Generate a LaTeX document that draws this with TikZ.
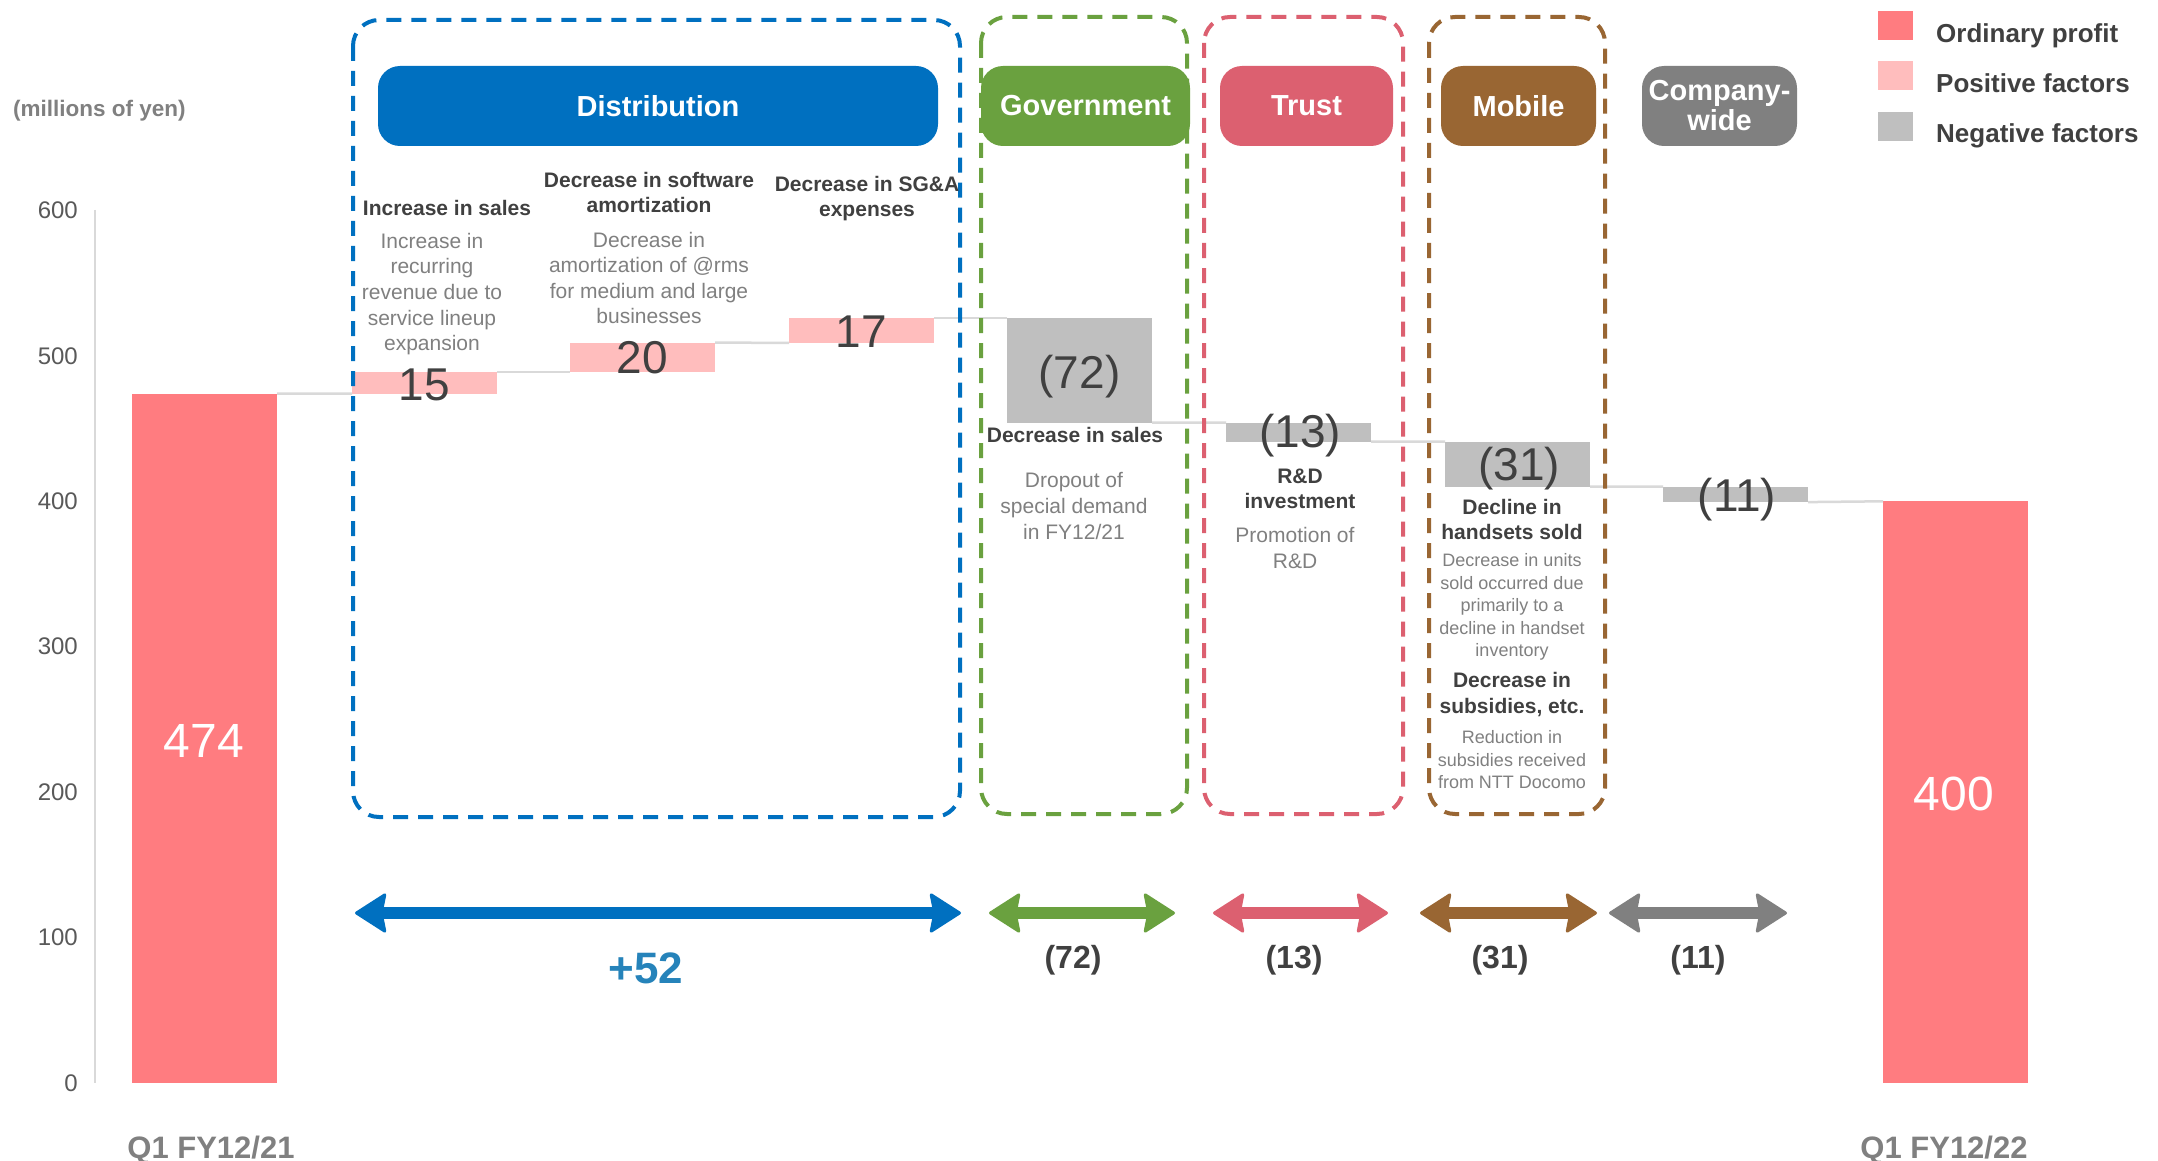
\documentclass[tikz,border=0pt]{standalone}
\usepackage{fontspec}
\setmainfont{Liberation Sans}
\usetikzlibrary{arrows.meta}
\definecolor{cOrd}{HTML}{FF7C80}
\definecolor{cPos}{HTML}{FFBDBD}
\definecolor{cNeg}{HTML}{BFBFBF}
\definecolor{cBlue}{HTML}{0070C0}
\definecolor{cGreen}{HTML}{6AA13F}
\definecolor{cTrust}{HTML}{DC6070}
\definecolor{cBrown}{HTML}{996633}
\definecolor{cComp}{HTML}{808080}
\definecolor{cDark}{HTML}{404040}
\definecolor{cDesc}{HTML}{808080}
\definecolor{cAxis}{HTML}{595959}
\definecolor{cConn}{HTML}{D9D9D9}
\definecolor{cPlus}{HTML}{2683BA}
\newcommand\fsz[2]{\fontsize{#1pt}{#2pt}\selectfont}
\begin{document}
\begin{tikzpicture}[x=1pt,y=-1pt,
  bar/.style={draw=none, inner sep=0pt, outer sep=0pt, minimum width=145pt, anchor=south west},
  conn/.style={draw=cConn, line width=2.5pt},
  dbox/.style={line width=4pt, dash pattern=on 15pt off 10pt, rounded corners=26pt},
  pill/.style={rounded corners=22pt, inner sep=0pt, minimum height=80pt, text=white, font={\bfseries\fsz{29}{30}}, align=center},
  lbl/.style={inner sep=0pt, align=center, text=cDark, font={\bfseries\fsz{21}{25}}},
  desc/.style={inner sep=0pt, align=center, text=cDesc, font={\fsz{21}{25.6}}},
  mdesc/.style={inner sep=0pt, align=center, text=cDesc, font={\fsz{18}{22.5}}},
  big/.style={inner sep=0pt, anchor=base, text=cDark, font={\fsz{46}{46}}},
  tot/.style={inner sep=0pt, anchor=base, text=white, font={\fsz{48}{48}}},
  ytick/.style={inner sep=0pt, anchor=east, text=cAxis, font={\fsz{24}{24}}},
  cat/.style={inner sep=0pt, anchor=base, text=cDesc, font={\bfseries\fsz{31}{31}}},
  spanarrow/.style={line width=12pt, arrows={Stealth[length=33pt,width=42pt,inset=4pt,round,line width=3pt 0 0]-Stealth[length=33pt,width=42pt,inset=4pt,round,line width=3pt 0 0]}},
  spanlbl/.style={inner sep=0pt, anchor=base, text=cDark, font={\bfseries\fsz{32}{32}}},
  legsq/.style={inner sep=0pt, minimum width=35pt, minimum height=29pt, anchor=north west},
  legtx/.style={inner sep=0pt, anchor=base west, text=cDark, font={\bfseries\fsz{26}{26}}}
]
\fill[white] (0,0) rectangle (2158,1161);
\useasboundingbox (0,0) rectangle (2158,1161);

% axis
\coordinate (axTop) at (95,210);
\coordinate (axBot) at (95,1083);
\draw[draw=cConn, line width=2pt] (axTop) -- (axBot);
\node[ytick] (t600) at (78,210.4) {600};
\node[ytick] (t500) at (78,355.9) {500};
\node[ytick] (t400) at (78,501.3) {400};
\node[ytick] (t300) at (78,646.7) {300};
\node[ytick] (t200) at (78,792.1) {200};
\node[ytick] (t100) at (78,937.6) {100};
\node[ytick] (t0) at (78,1083) {0};
\node[inner sep=0pt, anchor=west, text=cDesc, font={\bfseries\fsz{22.5}{22.5}}] (unit) at (13,111) {(millions of yen)};

% bars
\node[bar, fill=cOrd, minimum height=689.3pt] (b0) at (132,1083) {};
\node[bar, fill=cPos, minimum height=21.9pt] (b1) at (352,393.7) {};
\node[bar, fill=cPos, minimum height=29.1pt] (b2) at (570,371.8) {};
\node[bar, fill=cPos, minimum height=24.8pt] (b3) at (789,342.8) {};
\node[bar, fill=cNeg, minimum height=104.7pt] (b4) at (1007,422.7) {};
\node[bar, fill=cNeg, minimum height=18.9pt] (b5) at (1226,441.6) {};
\node[bar, fill=cNeg, minimum height=45.1pt] (b6) at (1445,486.7) {};
\node[bar, fill=cNeg, minimum height=15.4pt] (b7) at (1663,502.1) {};
\node[bar, fill=cOrd, minimum height=581.7pt] (b8) at (1883,1083) {};

% connectors
\draw[conn] (b0.north east) -- (b1.south west);
\draw[conn] (b1.north east) -- (b2.south west);
\draw[conn] (b2.north east) -- (b3.south west);
\draw[conn] (b3.north east) -- (b4.north west);
\draw[conn] (b4.south east) -- (b5.north west);
\draw[conn] (b5.south east) -- (b6.north west);
\draw[conn] (b6.south east) -- (b7.north west);
\draw[conn] (b7.south east) -- (b8.north west);

% group frames
\draw[dbox, draw=cBlue] (353,20) rectangle (960,817);
\draw[dbox, draw=cGreen] (981,17) rectangle (1187,814);
\draw[dbox, draw=cTrust] (1204,17) rectangle (1403,814);
\draw[dbox, draw=cBrown] (1429,17) rectangle (1605,814);

% headers
\node[pill, fill=cBlue, minimum width=560pt] (hDist) at (658,106) {Distribution};
\node[pill, fill=cGreen, minimum width=209pt] (hGov) at (1085.5,106) {Government};
\node[pill, fill=cTrust, minimum width=173pt] (hTrust) at (1306.5,106) {Trust};
\node[pill, fill=cBrown, minimum width=155pt] (hMob) at (1518.5,106) {Mobile};
\node[pill, fill=cComp, minimum width=155pt] (hComp) at (1719.5,106) {Company-\\wide};

% legend
\node[legsq, fill=cOrd] (lg1) at (1878,11) {};
\node[legsq, fill=cPos] (lg2) at (1878,61) {};
\node[legsq, fill=cNeg] (lg3) at (1878,112) {};
\node[legtx] (lt1) at (1936,43) {Ordinary profit};
\node[legtx] (lt2) at (1936,93) {Positive factors};
\node[legtx] (lt3) at (1936,143) {Negative factors};

% bar values
\node[tot] (v0) at (204,757) {474};
\node[big] (v1) at (b1.center |- 0,400) {15};
\node[big] (v2) at (b2.center |- 0,373) {20};
\node[big] (v3) at (b3.center |- 0,347) {17};
\node[big] (v4) at (b4.center |- 0,388) {(72)};
\node[big] (v5) at (1300,447) {(13)};
\node[big] (v6) at (1519,480) {(31)};
\node[big] (v7) at (1737,511) {(11)};
\node[tot] (v8) at (1954,810) {400};

% annotations
\node[lbl] (lA) at (447,208) {Increase in sales};
\node[desc] (dA) at (432,294) {Increase in\\recurring\\revenue due to\\service lineup\\expansion};
\node[lbl] (lB) at (649,192) {Decrease in software\\amortization};
\node[desc] (dB) at (649,278) {Decrease in\\amortization of @rms\\for medium and large\\businesses};
\node[lbl] (lC) at (867,199) {Decrease in SG\&A\\expenses};
\node[lbl] (lD) at (1075,435) {Decrease in sales};
\node[desc] (dD) at (1074,506) {Dropout of\\special demand\\in FY12/21};
\node[lbl] (lE) at (1300,489) {R\&D\\investment};
\node[desc] (dE) at (1295,548) {Promotion of\\R\&D};
\node[lbl] (lF) at (1512,519) {Decline in\\handsets sold};
\node[mdesc] (dF) at (1512,607) {Decrease in units\\sold occurred due\\primarily to a\\decline in handset\\inventory};
\node[lbl, font={\bfseries\fsz{21}{26}}] (lG) at (1512,695) {Decrease in\\subsidies, etc.};
\node[mdesc] (dG) at (1512,760) {Reduction in\\subsidies received\\from NTT Docomo};

% span arrows
\coordinate (sA1) at (355,913); \coordinate (sA2) at (961,913);
\coordinate (sB1) at (989,913); \coordinate (sB2) at (1175,913);
\coordinate (sC1) at (1213,913); \coordinate (sC2) at (1388,913);
\coordinate (sD1) at (1420,913); \coordinate (sD2) at (1597,913);
\coordinate (sE1) at (1609,913); \coordinate (sE2) at (1787,913);
\draw[spanarrow, draw=cBlue] (sA1) -- (sA2);
\draw[spanarrow, draw=cGreen] (sB1) -- (sB2);
\draw[spanarrow, draw=cTrust] (sC1) -- (sC2);
\draw[spanarrow, draw=cBrown] (sD1) -- (sD2);
\draw[spanarrow, draw=cComp] (sE1) -- (sE2);
\node[inner sep=0pt, anchor=base, text=cPlus, font={\bfseries\fsz{44}{44}}] (sumA) at (646,983) {+52};
\node[spanlbl] (sumB) at (1073,968) {(72)};
\node[spanlbl] (sumC) at (1294,968) {(13)};
\node[spanlbl] (sumD) at (1500,968) {(31)};
\node[spanlbl] (sumE) at (1698,968) {(11)};

% categories
\node[cat] (c1) at (211,1158) {Q1 FY12/21};
\node[cat] (c2) at (1944,1158) {Q1 FY12/22};
\end{tikzpicture}
\end{document}
